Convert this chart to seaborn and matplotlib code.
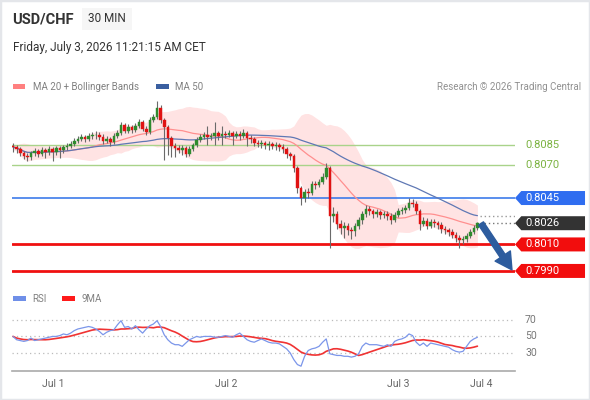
import numpy as np
import pandas as pd
import matplotlib
matplotlib.use("Agg")
import matplotlib.pyplot as plt
import seaborn as sns
from matplotlib.patches import Polygon, Rectangle
from matplotlib.transforms import blended_transform_factory

# ---------------- data (30-min candles, USD/CHF) ----------------
first_open = 0.80842
close = [0.80835, 0.80820, 0.80790, 0.80767, 0.80760, 0.80790, 0.80805, 0.80782, 0.80812, 0.80797,
         0.80820, 0.80797, 0.80827, 0.80812, 0.80835, 0.80842, 0.80858, 0.80880, 0.80895, 0.80910,
         0.80895, 0.80918, 0.80925, 0.80928, 0.80910, 0.80880, 0.80895, 0.80873, 0.80918, 0.80940,
         0.81001, 0.80956, 0.80986, 0.80963, 0.80993, 0.81023, 0.80971, 0.80948, 0.81039, 0.81061,
         0.81129, 0.81039, 0.80986, 0.80903, 0.80842, 0.80827, 0.80812, 0.80827, 0.80782, 0.80820,
         0.80850, 0.80888, 0.80910, 0.80925, 0.80910, 0.80918, 0.80940, 0.80918, 0.80933, 0.80925,
         0.80940, 0.80918, 0.80933, 0.80918, 0.80940, 0.80903, 0.80895, 0.80865, 0.80858, 0.80865,
         0.80850, 0.80858, 0.80842, 0.80850, 0.80835, 0.80820, 0.80782, 0.80767, 0.80677, 0.80526,
         0.80450, 0.80496, 0.80490, 0.80556, 0.80548, 0.80571, 0.80609, 0.80677, 0.80315, 0.80330,
         0.80254, 0.80224, 0.80239, 0.80209, 0.80201, 0.80239, 0.80284, 0.80330, 0.80367, 0.80352,
         0.80330, 0.80345, 0.80322, 0.80330, 0.80315, 0.80284, 0.80322, 0.80352, 0.80360, 0.80375,
         0.80413, 0.80405, 0.80352, 0.80254, 0.80277, 0.80239, 0.80269, 0.80262, 0.80247, 0.80217,
         0.80209, 0.80194, 0.80171, 0.80149, 0.80133, 0.80141, 0.80164, 0.80194, 0.80224, 0.80260]
high = [0.80865, 0.80850, 0.80835, 0.80805, 0.80790, 0.80805, 0.80827, 0.80820, 0.80835, 0.80827,
        0.80842, 0.80835, 0.80842, 0.80842, 0.80850, 0.80865, 0.80880, 0.80903, 0.80918, 0.80933,
        0.80925, 0.80940, 0.80948, 0.80956, 0.80948, 0.80933, 0.80918, 0.80910, 0.80940, 0.80963,
        0.81023, 0.81016, 0.81008, 0.81001, 0.81016, 0.81046, 0.81039, 0.80993, 0.81061, 0.81084,
        0.81182, 0.81152, 0.81054, 0.81001, 0.80918, 0.80865, 0.80850, 0.80850, 0.80842, 0.80842,
        0.80865, 0.80910, 0.80933, 0.80948, 0.80993, 0.80940, 0.81023, 0.80956, 0.80993, 0.80956,
        0.80963, 0.80956, 0.80956, 0.80956, 0.80971, 0.80956, 0.80925, 0.80910, 0.80888, 0.80888,
        0.80880, 0.80880, 0.80873, 0.80873, 0.80865, 0.80858, 0.80835, 0.80797, 0.80782, 0.80692,
        0.80541, 0.80518, 0.80526, 0.80579, 0.80579, 0.80594, 0.80639, 0.80714, 0.80692, 0.80382,
        0.80352, 0.80284, 0.80269, 0.80262, 0.80232, 0.80262, 0.80307, 0.80352, 0.80398, 0.80390,
        0.80367, 0.80367, 0.80360, 0.80352, 0.80352, 0.80337, 0.80345, 0.80375, 0.80382, 0.80398,
        0.80450, 0.80443, 0.80428, 0.80367, 0.80307, 0.80300, 0.80292, 0.80292, 0.80277, 0.80269,
        0.80239, 0.80224, 0.80217, 0.80194, 0.80171, 0.80164, 0.80186, 0.80217, 0.80247, 0.80269]
low = [0.80797, 0.80790, 0.80767, 0.80744, 0.80729, 0.80737, 0.80767, 0.80760, 0.80767, 0.80752,
       0.80775, 0.80729, 0.80775, 0.80752, 0.80790, 0.80812, 0.80827, 0.80842, 0.80865, 0.80880,
       0.80873, 0.80880, 0.80895, 0.80895, 0.80888, 0.80858, 0.80865, 0.80842, 0.80858, 0.80903,
       0.80925, 0.80940, 0.80940, 0.80940, 0.80948, 0.80978, 0.80956, 0.80925, 0.80933, 0.81023,
       0.81046, 0.81016, 0.80737, 0.80775, 0.80760, 0.80760, 0.80790, 0.80775, 0.80760, 0.80767,
       0.80805, 0.80835, 0.80873, 0.80895, 0.80850, 0.80888, 0.80850, 0.80888, 0.80850, 0.80903,
       0.80910, 0.80850, 0.80903, 0.80888, 0.80903, 0.80842, 0.80865, 0.80842, 0.80835, 0.80827,
       0.80820, 0.80812, 0.80820, 0.80812, 0.80805, 0.80790, 0.80752, 0.80737, 0.80646, 0.80488,
       0.80398, 0.80420, 0.80450, 0.80473, 0.80518, 0.80533, 0.80556, 0.80594, 0.80073, 0.80269,
       0.80217, 0.80179, 0.80149, 0.80171, 0.80141, 0.80164, 0.80217, 0.80254, 0.80307, 0.80322,
       0.80300, 0.80307, 0.80292, 0.80300, 0.80284, 0.80254, 0.80269, 0.80307, 0.80330, 0.80337,
       0.80360, 0.80382, 0.80330, 0.80209, 0.80239, 0.80217, 0.80224, 0.80232, 0.80217, 0.80186,
       0.80179, 0.80164, 0.80149, 0.80118, 0.80073, 0.80103, 0.80118, 0.80149, 0.80179, 0.80209]
rsi = [50, 46, 45, 44, 45, 48, 45, 46, 47, 48,
       49, 50, 50, 51, 53, 52, 54, 57, 59, 60,
       61, 62, 61, 59, 56, 52, 55, 57, 58, 64,
       69, 61, 62, 59, 63, 58, 54, 59, 63, 65,
       69, 62, 52, 46, 42, 40, 40, 38, 42, 46,
       48, 50, 49, 50, 50, 50, 49, 49, 50, 51,
       50, 49, 52, 54, 50, 46, 44, 43, 45, 47,
       45, 43, 42, 42, 41, 38, 35, 30, 22, 16,
       14, 26, 33, 35, 36, 38, 43, 47, 29, 28,
       27, 27, 26, 26, 25, 26, 29, 38, 42, 40,
       40, 40, 39, 38, 40, 38, 44, 46, 47, 49,
       53, 51, 43, 39, 42, 38, 42, 41, 40, 39,
       38, 37, 34, 32, 31, 32, 38, 44, 47, 49]
day_labels = ["Jul 1", "Jul 2", "Jul 3", "Jul 4"]
day_pos = [11.1, 59.2, 106.9, 130.0]
green_levels = [0.8085, 0.8070]
pivot_level = 0.8045
support_levels = [0.8010, 0.7990]
rsi_levels = [70, 50, 30]

# ---------------- style ----------------
sns.set_style("white")
plt.rcParams['font.family'] = ['Roboto', 'DejaVu Sans']

n = len(close)
df = pd.DataFrame({"i": np.arange(n), "close": close, "high": high, "low": low, "rsi": rsi})
df["open"] = np.r_[first_open, df["close"].values[:-1]]
df["ma20"] = df["close"].rolling(20, min_periods=1).mean()
sd = df["close"].rolling(20, min_periods=2).std().bfill()
df["up"] = df["ma20"] + 2 * sd
df["dn"] = df["ma20"] - 2 * sd
df["ma50"] = df["close"].rolling(50, min_periods=1).mean()
df["rsi9"] = df["rsi"].rolling(9, min_periods=1).mean()

W, H = 590, 400
fig = plt.figure(figsize=(W / 100, H / 100), dpi=100)

def rect(x0, y0, x1, y1):
    return [x0 / W, 1 - y1 / H, (x1 - x0) / W, (y1 - y0) / H]

ax = fig.add_axes(rect(12, 97, 515, 285))
ax2 = fig.add_axes(rect(12, 305, 515, 371))
xmin, xmax = -0.28, 139.44

# ---------------- price panel ----------------
ax.fill_between(df["i"], df["dn"], df["up"], color="#FFE3E3", lw=0, zorder=1)
sns.lineplot(data=df, x="i", y="ma20", ax=ax, color="#FF8F8F", lw=0.9, zorder=2)
sns.lineplot(data=df, x="i", y="ma50", ax=ax, color="#5F78B4", lw=0.9, zorder=2)

for lv in green_levels:
    ax.axhline(lv, color="#A9D38A", lw=1.0, zorder=1.5)
ax.axhline(pivot_level, color="#3D7BEA", lw=1.2, zorder=1.5)
for lv in support_levels:
    ax.axhline(lv, color="#F01010", lw=2.0, zorder=1.5)

o = df["open"].values
c = df["close"].values
up_mask = c >= o
cols = np.where(up_mask, "#2E8B2E", "#E01212")
ax.vlines(df["i"], df["low"], df["high"], color="#6A6A6A", lw=0.8, zorder=3)
body = np.maximum(np.abs(c - o), 0.00003)
ax.bar(df["i"], body, bottom=np.minimum(o, c), width=0.72, color=cols,
       edgecolor=cols, lw=0.3, zorder=4)

# dotted extensions
ax.plot([n - 1 + 0.6, xmax], [c[-1], c[-1]], ls=(0, (1, 2)), color="#777777", lw=1.0, zorder=2)
ax.plot([n - 1 + 0.6, xmax], [df["ma50"].iloc[-1]] * 2, ls=(0, (1, 2)), color="#999999", lw=1.0, zorder=2)

ax.set_xlim(xmin, xmax)
ax.set_ylim(0.79794, 0.81212)
ax.set_xlabel("")
ax.set_ylabel("")
ax.set_xticks([])
ax.set_yticks([])
for s in ax.spines.values():
    s.set_visible(False)

# forecast arrow
ax.annotate("", xy=(n - 1 + 9.6, support_levels[1] + 0.00008),
            xytext=(n - 1 + 1.0, c[-1] - 0.00002),
            arrowprops=dict(arrowstyle="simple,head_width=1.1,head_length=1.0,tail_width=0.35",
                            mutation_scale=12, color="#2D5C9E", shrinkA=0, shrinkB=0),
            annotation_clip=False, zorder=6)

# right-hand labels
tr = blended_transform_factory(ax.transAxes, ax.transData)
half = 7 / 13260.0
x_tip, x_sh, x_r = 1.0, 1.0125, 1.1392
x_txt = 1.0199

def tag(level, color, text):
    poly = Polygon([[x_tip, level], [x_sh, level + half], [x_r, level + half],
                    [x_r, level - half], [x_sh, level - half]],
                   closed=True, transform=tr, facecolor=color, edgecolor="none",
                   clip_on=False, zorder=7)
    ax.add_patch(poly)
    ax.text(x_txt, level, text, transform=tr, color="white", fontsize=8,
            va="center", ha="left", clip_on=False, zorder=8)

for lv in green_levels:
    ax.text(x_txt, lv, f"{lv:.4f}", transform=tr, color="#7CB342", fontsize=8,
            va="center", ha="left", clip_on=False)
tag(pivot_level, "#2F6DF0", f"{pivot_level:.4f}")
tag(c[-1], "#333333", f"{c[-1]:.4f}")
for lv in support_levels:
    tag(lv, "#F20D0D", f"{lv:.4f}")

# ---------------- RSI panel ----------------
for lv in rsi_levels:
    ax2.axhline(lv, color="#BBBBBB", lw=0.9, ls=(0, (1, 2.5)), zorder=1)
sns.lineplot(data=df, x="i", y="rsi", ax=ax2, color="#7B96EA", lw=0.9, zorder=3)
sns.lineplot(data=df, x="i", y="rsi9", ax=ax2, color="#F03333", lw=1.2, zorder=2)
ax2.set_xlim(xmin, xmax)
ax2.set_ylim(8.2, 88)
ax2.set_xlabel("")
ax2.set_ylabel("")
ax2.set_yticks([])
ax2.set_xticks(day_pos)
ax2.set_xticklabels(day_labels)
ax2.set_xticks([xmin, xmax], minor=True)
ax2.tick_params(axis="x", which="major", length=0, pad=6, labelsize=7.5, labelcolor="#666666")
ax2.tick_params(axis="x", which="minor", length=5, width=1.2, color="#AAAAAA", direction="out")
for k, s in ax2.spines.items():
    s.set_visible(k == "bottom")
ax2.spines["bottom"].set_color("#AAAAAA")
ax2.spines["bottom"].set_linewidth(1.2)
tr2 = blended_transform_factory(ax2.transAxes, ax2.transData)
for lv in rsi_levels:
    ax2.text(x_txt, lv, f"{lv}", transform=tr2, color="#777777", fontsize=7.5,
             va="center", ha="left", clip_on=False)

# ---------------- header & legends ----------------
def ftxt(x, y, s, **kw):
    fig.text(x / W, 1 - y / H, s, va="center", **kw)

def fpatch(x0, y0, x1, y1, color):
    fig.patches.append(Rectangle((x0 / W, 1 - y1 / H), (x1 - x0) / W, (y1 - y0) / H,
                                 transform=fig.transFigure, facecolor=color,
                                 edgecolor="none", zorder=1))

fpatch(82, 8, 132, 30, "#F6F6F6")
ftxt(12, 19, "USD/CHF", fontsize=10.5, fontweight="bold", color="#333333")
ftxt(88, 19, "30 MIN", fontsize=8.5, color="#333333")
ftxt(13, 48, "Friday, July 3, 2026 11:21:15 AM CET", fontsize=8.5, color="#333333")

fpatch(13, 84, 25, 89, "#FF8080")
ftxt(33, 86.5, "MA 20 + Bollinger Bands", fontsize=7, color="#808080")
fpatch(156, 84, 169, 89, "#3A5FA0")
ftxt(175, 86.5, "MA 50", fontsize=7, color="#808080")
ftxt(581, 86.5, "Research \u00a9 2026 Trading Central", fontsize=7, color="#909090", ha="right")

fpatch(13, 296, 26, 301, "#6F8FE8")
ftxt(32, 298.5, "RSI", fontsize=7, color="#808080")
fpatch(62, 296, 75, 301, "#FF1A1A")
ftxt(82, 298.5, "9MA", fontsize=7, color="#808080")

# frame
fig.patches.append(Rectangle((0, 0), 1, 1, transform=fig.transFigure, facecolor="none",
                             edgecolor="#E4E6EA", lw=2.5, zorder=0))

fig.savefig("out.png", dpi=100)
